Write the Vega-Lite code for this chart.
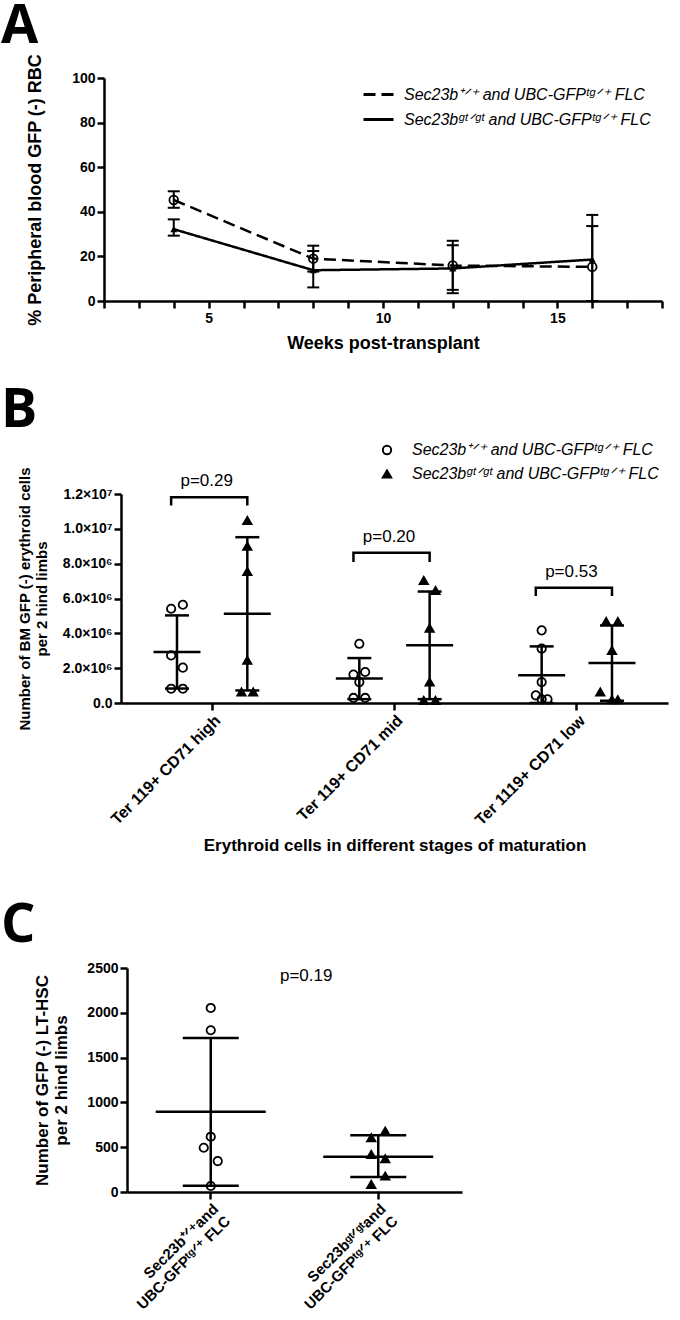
{
  "$schema": "https://vega.github.io/schema/vega-lite/v6.json",
  "padding": {"left": 0, "top": 0, "right": 5, "bottom": 2},
  "background": "white",
  "config": {
    "view": {"stroke": null},
    "font": "Liberation Sans",
    "axis": {"grid": false, "domainColor": "black", "domainWidth": 2.5, "tickColor": "black", "tickWidth": 2.5, "tickSize": 7, "labelColor": "black", "labelFont": "Liberation Sans", "labelFontSize": 14, "labelFontWeight": "bold", "labelOverlap": false, "titleColor": "black", "titleFont": "Liberation Sans", "titleFontWeight": "bold", "titleFontSize": 17},
    "legend": {"labelFont": "Liberation Sans", "labelFontStyle": "italic", "labelFontSize": 16, "labelColor": "black", "labelLimit": 500, "padding": 0},
    "title": {"font": "Open Sans", "fontSize": 54, "fontWeight": "bold", "color": "black", "anchor": "start", "frame": "group", "baseline": "alphabetic"}
  },
  "datasets": {
    "a": [
      {"week": 4, "grp": "+/+", "mean": 45.3, "lo": 41.8, "hi": 49.2},
      {"week": 8, "grp": "+/+", "mean": 19.0, "lo": 13.2, "hi": 24.8},
      {"week": 12, "grp": "+/+", "mean": 15.9, "lo": 5.0, "hi": 27.0},
      {"week": 16, "grp": "+/+", "mean": 15.3, "lo": 0, "hi": 33.6},
      {"week": 4, "grp": "gt/gt", "mean": 32.2, "lo": 29.3, "hi": 36.6},
      {"week": 8, "grp": "gt/gt", "mean": 13.8, "lo": 6.1, "hi": 22.4},
      {"week": 12, "grp": "gt/gt", "mean": 14.6, "lo": 3.5, "hi": 25.0},
      {"week": 16, "grp": "gt/gt", "mean": 18.6, "lo": 0, "hi": 38.6}
    ],
    "b_pts": [
      {"stage": "Ter 119+ CD71 high", "grp": "+/+", "col": "+/+ L", "value": 5410000},
      {"stage": "Ter 119+ CD71 high", "grp": "+/+", "col": "+/+ R", "value": 5640000},
      {"stage": "Ter 119+ CD71 high", "grp": "+/+", "col": "+/+ L", "value": 2730000},
      {"stage": "Ter 119+ CD71 high", "grp": "+/+", "col": "+/+ R", "value": 2030000},
      {"stage": "Ter 119+ CD71 high", "grp": "+/+", "col": "+/+ L", "value": 820000},
      {"stage": "Ter 119+ CD71 high", "grp": "+/+", "col": "+/+ R", "value": 820000},
      {"stage": "Ter 119+ CD71 high", "grp": "gt/gt", "col": "gt/gt C", "value": 10480000},
      {"stage": "Ter 119+ CD71 high", "grp": "gt/gt", "col": "gt/gt C", "value": 9000000},
      {"stage": "Ter 119+ CD71 high", "grp": "gt/gt", "col": "gt/gt C", "value": 7550000},
      {"stage": "Ter 119+ CD71 high", "grp": "gt/gt", "col": "gt/gt C", "value": 2450000},
      {"stage": "Ter 119+ CD71 high", "grp": "gt/gt", "col": "gt/gt L", "value": 630000},
      {"stage": "Ter 119+ CD71 high", "grp": "gt/gt", "col": "gt/gt R", "value": 630000},
      {"stage": "Ter 119+ CD71 mid", "grp": "+/+", "col": "+/+ C", "value": 3400000},
      {"stage": "Ter 119+ CD71 mid", "grp": "+/+", "col": "+/+ L", "value": 1630000},
      {"stage": "Ter 119+ CD71 mid", "grp": "+/+", "col": "+/+ R", "value": 1780000},
      {"stage": "Ter 119+ CD71 mid", "grp": "+/+", "col": "+/+ C", "value": 1200000},
      {"stage": "Ter 119+ CD71 mid", "grp": "+/+", "col": "+/+ L", "value": 290000},
      {"stage": "Ter 119+ CD71 mid", "grp": "+/+", "col": "+/+ R", "value": 290000},
      {"stage": "Ter 119+ CD71 mid", "grp": "gt/gt", "col": "gt/gt L", "value": 7040000},
      {"stage": "Ter 119+ CD71 mid", "grp": "gt/gt", "col": "gt/gt R", "value": 6460000},
      {"stage": "Ter 119+ CD71 mid", "grp": "gt/gt", "col": "gt/gt C", "value": 4300000},
      {"stage": "Ter 119+ CD71 mid", "grp": "gt/gt", "col": "gt/gt C", "value": 1200000},
      {"stage": "Ter 119+ CD71 mid", "grp": "gt/gt", "col": "gt/gt L", "value": 150000},
      {"stage": "Ter 119+ CD71 mid", "grp": "gt/gt", "col": "gt/gt R", "value": 150000},
      {"stage": "Ter 1119+ CD71 low", "grp": "+/+", "col": "+/+ C", "value": 4170000},
      {"stage": "Ter 1119+ CD71 low", "grp": "+/+", "col": "+/+ C", "value": 3120000},
      {"stage": "Ter 1119+ CD71 low", "grp": "+/+", "col": "+/+ C", "value": 1200000},
      {"stage": "Ter 1119+ CD71 low", "grp": "+/+", "col": "+/+ L", "value": 440000},
      {"stage": "Ter 1119+ CD71 low", "grp": "+/+", "col": "+/+ C", "value": 210000},
      {"stage": "Ter 1119+ CD71 low", "grp": "+/+", "col": "+/+ R", "value": 210000},
      {"stage": "Ter 1119+ CD71 low", "grp": "gt/gt", "col": "gt/gt L", "value": 4680000},
      {"stage": "Ter 1119+ CD71 low", "grp": "gt/gt", "col": "gt/gt R", "value": 4680000},
      {"stage": "Ter 1119+ CD71 low", "grp": "gt/gt", "col": "gt/gt C", "value": 3020000},
      {"stage": "Ter 1119+ CD71 low", "grp": "gt/gt", "col": "gt/gt LL", "value": 630000},
      {"stage": "Ter 1119+ CD71 low", "grp": "gt/gt", "col": "gt/gt C", "value": 190000},
      {"stage": "Ter 1119+ CD71 low", "grp": "gt/gt", "col": "gt/gt R", "value": 190000}
    ],
    "b_sum": [
      {"stage": "Ter 119+ CD71 high", "col": "+/+ C", "mean": 2930000, "lo": 830000, "hi": 5030000},
      {"stage": "Ter 119+ CD71 high", "col": "gt/gt C", "mean": 5120000, "lo": 720000, "hi": 9520000},
      {"stage": "Ter 119+ CD71 mid", "col": "+/+ C", "mean": 1400000, "lo": 220000, "hi": 2580000},
      {"stage": "Ter 119+ CD71 mid", "col": "gt/gt C", "mean": 3310000, "lo": 220000, "hi": 6400000},
      {"stage": "Ter 1119+ CD71 low", "col": "+/+ C", "mean": 1590000, "lo": 0, "hi": 3250000},
      {"stage": "Ter 1119+ CD71 low", "col": "gt/gt C", "mean": 2290000, "lo": 130000, "hi": 4450000}
    ],
    "b_br": [
      {"stage": "Ter 119+ CD71 high", "col": "+/+ L", "k": 1, "by": 11340000},
      {"stage": "Ter 119+ CD71 high", "col": "+/+ L", "k": 2, "by": 11820000},
      {"stage": "Ter 119+ CD71 high", "col": "gt/gt C", "k": 3, "by": 11820000},
      {"stage": "Ter 119+ CD71 high", "col": "gt/gt C", "k": 4, "by": 11340000},
      {"stage": "Ter 119+ CD71 mid", "col": "+/+ L", "k": 1, "by": 8090000},
      {"stage": "Ter 119+ CD71 mid", "col": "+/+ L", "k": 2, "by": 8620000},
      {"stage": "Ter 119+ CD71 mid", "col": "gt/gt C", "k": 3, "by": 8620000},
      {"stage": "Ter 119+ CD71 mid", "col": "gt/gt C", "k": 4, "by": 8090000},
      {"stage": "Ter 1119+ CD71 low", "col": "+/+ L", "k": 1, "by": 6140000},
      {"stage": "Ter 1119+ CD71 low", "col": "+/+ L", "k": 2, "by": 6620000},
      {"stage": "Ter 1119+ CD71 low", "col": "gt/gt C", "k": 3, "by": 6620000},
      {"stage": "Ter 1119+ CD71 low", "col": "gt/gt C", "k": 4, "by": 6140000}
    ],
    "b_p": [
      {"stage": "Ter 119+ CD71 high", "ptext": "p=0.29", "py": 12770000},
      {"stage": "Ter 119+ CD71 mid", "ptext": "p=0.20", "py": 9520000},
      {"stage": "Ter 1119+ CD71 low", "ptext": "p=0.53", "py": 7510000}
    ],
    "c_pts": [
      {"grp": "+/+", "side": "C", "value": 2054},
      {"grp": "+/+", "side": "C", "value": 1805},
      {"grp": "+/+", "side": "C", "value": 617},
      {"grp": "+/+", "side": "L", "value": 494},
      {"grp": "+/+", "side": "R", "value": 345},
      {"grp": "+/+", "side": "C", "value": 67},
      {"grp": "gt/gt", "side": "R", "value": 680},
      {"grp": "gt/gt", "side": "L", "value": 605},
      {"grp": "gt/gt", "side": "L", "value": 420},
      {"grp": "gt/gt", "side": "R", "value": 371},
      {"grp": "gt/gt", "side": "R", "value": 178},
      {"grp": "gt/gt", "side": "L", "value": 85}
    ],
    "c_sum": [
      {"grp": "+/+", "side": "C", "mean": 895, "lo": 70, "hi": 1720},
      {"grp": "gt/gt", "side": "C", "mean": 394, "lo": 167, "hi": 632}
    ],
    "c_p": [
      {"grp": "+/+", "ptext": "p=0.19", "py": 2407}
    ]
  },
  "spacing": 45,
  "resolve": {"scale": {"x": "independent", "y": "independent", "xOffset": "independent", "shape": "independent", "fill": "independent", "stroke": "independent", "strokeDash": "independent"}, "legend": {"shape": "independent", "fill": "independent", "stroke": "independent", "strokeDash": "independent"}},
  "vconcat": [
    {
      "spacing": 32,
      "resolve": {"scale": {"x": "independent", "y": "independent", "xOffset": "independent", "shape": "independent", "fill": "independent", "stroke": "independent", "strokeDash": "independent"}, "legend": {"shape": "independent", "fill": "independent", "stroke": "independent", "strokeDash": "independent"}},
      "vconcat": [
        {
          "spacing": 0,
          "resolve": {"scale": {"x": "independent", "y": "independent", "xOffset": "independent", "shape": "independent", "fill": "independent", "stroke": "independent", "strokeDash": "independent"}, "legend": {"shape": "independent", "fill": "independent", "stroke": "independent", "strokeDash": "independent"}},
          "hconcat": [
            {"width": 1, "height": 1, "view": {"fill": "white", "stroke": null}, "data": {"values": []}, "mark": "point"},
            {
              "width": 558,
              "height": 223,
              "title": {"text": "A", "dx": -103, "offset": -1},
              "data": {"name": "a"},
              "encoding": {
                "x": {"field": "week", "type": "quantitative", "scale": {"domain": [2, 18], "nice": false, "zero": false},
                  "axis": {"values": [2, 3, 4, 5, 6, 7, 8, 9, 10, 11, 12, 13, 14, 15, 16, 17, 18], "labelExpr": "datum.value % 5 === 0 ? datum.label : ''", "title": "Weeks post-transplant", "titleFontSize": 18, "titlePadding": 9, "labelPadding": 3}}
              },
              "layer": [
                {
                  "mark": {"type": "line", "color": "black", "strokeWidth": 2.5},
                  "encoding": {
                    "y": {"field": "mean", "type": "quantitative", "title": "% Peripheral blood GFP (-) RBC", "scale": {"domain": [0, 100], "nice": false},
                      "axis": {"values": [0, 20, 40, 60, 80, 100], "titleFontSize": 18, "titlePadding": 27, "labelPadding": 2}},
                    "strokeDash": {"field": "grp", "type": "nominal", "scale": {"domain": ["+/+", "gt/gt"], "range": [[12, 6], [1, 0]]},
                      "legend": {"title": null, "orient": "none", "legendX": 258, "legendY": 0, "symbolType": "stroke", "symbolSize": 900, "symbolStrokeWidth": 3, "symbolStrokeColor": "black", "labelOffset": 9, "rowPadding": -3,
                        "labelExpr": "datum.label === '+/+' ? 'Sec23b⁺ᐟ⁺ and UBC-GFPᵗᵍᐟ⁺ FLC' : 'Sec23bᵍᵗᐟᵍᵗ and UBC-GFPᵗᵍᐟ⁺ FLC'"}}
                  }
                },
                {
                  "mark": {"type": "rule", "color": "black", "strokeWidth": 2},
                  "encoding": {"y": {"field": "lo", "type": "quantitative", "title": "% Peripheral blood GFP (-) RBC"}, "y2": {"field": "hi"}, "detail": {"field": "grp"}}
                },
                {
                  "mark": {"type": "tick", "orient": "horizontal", "color": "black", "opacity": 1, "size": 12, "thickness": 2},
                  "encoding": {"y": {"field": "lo", "type": "quantitative", "title": "% Peripheral blood GFP (-) RBC"}}
                },
                {
                  "mark": {"type": "tick", "orient": "horizontal", "color": "black", "opacity": 1, "size": 12, "thickness": 2},
                  "encoding": {"y": {"field": "hi", "type": "quantitative", "title": "% Peripheral blood GFP (-) RBC"}}
                },
                {
                  "transform": [{"filter": "datum.grp === '+/+'"}],
                  "mark": {"type": "point", "shape": "circle", "filled": false, "stroke": "black", "strokeWidth": 1.8, "opacity": 1, "size": 75},
                  "encoding": {"y": {"field": "mean", "type": "quantitative", "title": "% Peripheral blood GFP (-) RBC"}}
                },
                {
                  "transform": [{"filter": "datum.grp === 'gt/gt'"}],
                  "mark": {"type": "point", "shape": "triangle-up", "filled": true, "color": "black", "opacity": 1, "size": 50},
                  "encoding": {"y": {"field": "mean", "type": "quantitative", "title": "% Peripheral blood GFP (-) RBC"}}
                }
              ]
            }
          ]
        },
        {
          "spacing": 0,
          "resolve": {"scale": {"x": "independent", "y": "independent", "xOffset": "independent", "shape": "independent", "fill": "independent", "stroke": "independent", "strokeDash": "independent"}, "legend": {"shape": "independent", "fill": "independent", "stroke": "independent", "strokeDash": "independent"}},
          "hconcat": [
            {"width": 1, "height": 1, "view": {"fill": "white", "stroke": null}, "data": {"values": []}, "mark": "point"},
            {
              "width": 547,
              "height": 209,
              "title": {"text": "B", "dx": -120, "offset": 4},
              "encoding": {
                "x": {"field": "stage", "type": "nominal", "sort": null,
                  "scale": {"domain": ["Ter 119+ CD71 high", "Ter 119+ CD71 mid", "Ter 1119+ CD71 low"], "paddingInner": 0, "paddingOuter": 0},
                  "axis": {"labelAngle": -45, "labelFontSize": 16, "labelPadding": 2, "title": "Erythroid cells in different stages of maturation", "titlePadding": 10}}
              },
              "layer": [
                {
                  "data": {"name": "b_pts"},
                  "mark": {"type": "point", "filled": true, "strokeWidth": 1.8, "opacity": 1, "size": 70},
                  "encoding": {
                    "xOffset": {"field": "col", "type": "nominal", "scale": {"domain": ["+/+ L", "+/+ C", "+/+ R", "s3", "s4", "s5", "s6", "s7", "s8", "s9", "s10", "gt/gt LL", "gt/gt L", "gt/gt C", "gt/gt R"], "range": [47.2, 135.1], "paddingInner": 0, "paddingOuter": 0}},
                    "y": {"field": "value", "type": "quantitative", "title": ["Number of BM GFP (-) erythroid cells", "per 2 hind limbs"], "scale": {"domain": [0, 12000000], "nice": false},
                      "axis": {"values": [0, 2000000, 4000000, 6000000, 8000000, 10000000, 12000000], "labelOverlap": false, "labelSeparation": 0, "titlePadding": 13, "titleFontSize": 15, "labelPadding": 2,
                        "labelExpr": "datum.value === 0 ? '0.0' : datum.value >= 10000000 ? format(datum.value / 10000000, '.1f') + '×10⁷' : format(datum.value / 1000000, '.1f') + '×10⁶'"}},
                    "shape": {"field": "grp", "type": "nominal", "scale": {"domain": ["+/+", "gt/gt"], "range": ["circle", "triangle-up"]},
                      "legend": {"title": null, "orient": "none", "legendX": 258, "legendY": -52, "symbolStrokeWidth": 2, "symbolSize": 70, "labelOffset": 17, "rowPadding": 7,
                        "labelExpr": "datum.label === '+/+' ? 'Sec23b⁺ᐟ⁺ and UBC-GFPᵗᵍᐟ⁺ FLC' : 'Sec23bᵍᵗᐟᵍᵗ and UBC-GFPᵗᵍᐟ⁺ FLC'"}},
                    "fill": {"field": "grp", "type": "nominal", "scale": {"domain": ["+/+", "gt/gt"], "range": ["transparent", "black"]},
                      "legend": {"title": null, "orient": "none", "legendX": 258, "legendY": -52, "symbolStrokeWidth": 2, "symbolSize": 70, "labelOffset": 17, "rowPadding": 7,
                        "labelExpr": "datum.label === '+/+' ? 'Sec23b⁺ᐟ⁺ and UBC-GFPᵗᵍᐟ⁺ FLC' : 'Sec23bᵍᵗᐟᵍᵗ and UBC-GFPᵗᵍᐟ⁺ FLC'"}},
                    "stroke": {"field": "grp", "type": "nominal", "scale": {"domain": ["+/+", "gt/gt"], "range": ["black", "black"]},
                      "legend": {"title": null, "orient": "none", "legendX": 258, "legendY": -52, "symbolStrokeWidth": 2, "symbolSize": 70, "labelOffset": 17, "rowPadding": 7,
                        "labelExpr": "datum.label === '+/+' ? 'Sec23b⁺ᐟ⁺ and UBC-GFPᵗᵍᐟ⁺ FLC' : 'Sec23bᵍᵗᐟᵍᵗ and UBC-GFPᵗᵍᐟ⁺ FLC'"}}
                  }
                },
                {
                  "data": {"name": "b_sum"},
                  "mark": {"type": "rule", "color": "black", "strokeWidth": 2.5},
                  "encoding": {
                    "xOffset": {"field": "col", "type": "nominal"},
                    "y": {"field": "lo", "type": "quantitative", "title": ["Number of BM GFP (-) erythroid cells", "per 2 hind limbs"],
                      "axis": {"values": [0, 2000000, 4000000, 6000000, 8000000, 10000000, 12000000], "labelOverlap": false, "labelSeparation": 0, "titlePadding": 13, "titleFontSize": 15, "labelPadding": 2,
                        "labelExpr": "datum.value === 0 ? '0.0' : datum.value >= 10000000 ? format(datum.value / 10000000, '.1f') + '×10⁷' : format(datum.value / 1000000, '.1f') + '×10⁶'"}},
                    "y2": {"field": "hi"}
                  }
                },
                {
                  "data": {"name": "b_sum"},
                  "mark": {"type": "tick", "orient": "horizontal", "color": "black", "opacity": 1, "size": 47, "thickness": 2.5},
                  "encoding": {"xOffset": {"field": "col", "type": "nominal"}, "y": {"field": "mean", "type": "quantitative", "title": ["Number of BM GFP (-) erythroid cells", "per 2 hind limbs"],
                      "axis": {"values": [0, 2000000, 4000000, 6000000, 8000000, 10000000, 12000000], "labelOverlap": false, "labelSeparation": 0, "titlePadding": 13, "titleFontSize": 15, "labelPadding": 2,
                        "labelExpr": "datum.value === 0 ? '0.0' : datum.value >= 10000000 ? format(datum.value / 10000000, '.1f') + '×10⁷' : format(datum.value / 1000000, '.1f') + '×10⁶'"}}}
                },
                {
                  "data": {"name": "b_sum"},
                  "mark": {"type": "tick", "orient": "horizontal", "color": "black", "opacity": 1, "size": 24, "thickness": 2.5},
                  "encoding": {"xOffset": {"field": "col", "type": "nominal"}, "y": {"field": "hi", "type": "quantitative", "title": ["Number of BM GFP (-) erythroid cells", "per 2 hind limbs"],
                      "axis": {"values": [0, 2000000, 4000000, 6000000, 8000000, 10000000, 12000000], "labelOverlap": false, "labelSeparation": 0, "titlePadding": 13, "titleFontSize": 15, "labelPadding": 2,
                        "labelExpr": "datum.value === 0 ? '0.0' : datum.value >= 10000000 ? format(datum.value / 10000000, '.1f') + '×10⁷' : format(datum.value / 1000000, '.1f') + '×10⁶'"}}}
                },
                {
                  "data": {"name": "b_sum"},
                  "mark": {"type": "tick", "orient": "horizontal", "color": "black", "opacity": 1, "size": 24, "thickness": 2.5},
                  "encoding": {"xOffset": {"field": "col", "type": "nominal"}, "y": {"field": "lo", "type": "quantitative", "title": ["Number of BM GFP (-) erythroid cells", "per 2 hind limbs"],
                      "axis": {"values": [0, 2000000, 4000000, 6000000, 8000000, 10000000, 12000000], "labelOverlap": false, "labelSeparation": 0, "titlePadding": 13, "titleFontSize": 15, "labelPadding": 2,
                        "labelExpr": "datum.value === 0 ? '0.0' : datum.value >= 10000000 ? format(datum.value / 10000000, '.1f') + '×10⁷' : format(datum.value / 1000000, '.1f') + '×10⁶'"}}}
                },
                {
                  "data": {"name": "b_br"},
                  "mark": {"type": "line", "color": "black", "strokeWidth": 2.5},
                  "encoding": {
                    "xOffset": {"field": "col", "type": "nominal"},
                    "y": {"field": "by", "type": "quantitative", "title": ["Number of BM GFP (-) erythroid cells", "per 2 hind limbs"],
                      "axis": {"values": [0, 2000000, 4000000, 6000000, 8000000, 10000000, 12000000], "labelOverlap": false, "labelSeparation": 0, "titlePadding": 13, "titleFontSize": 15, "labelPadding": 2,
                        "labelExpr": "datum.value === 0 ? '0.0' : datum.value >= 10000000 ? format(datum.value / 10000000, '.1f') + '×10⁷' : format(datum.value / 1000000, '.1f') + '×10⁶'"}},
                    "detail": {"field": "stage"},
                    "order": {"field": "k", "type": "quantitative"}
                  }
                },
                {
                  "data": {"name": "b_p"},
                  "mark": {"type": "text", "font": "Liberation Sans", "fontSize": 17, "color": "black", "baseline": "middle", "align": "center"},
                  "encoding": {
                    "x": {"field": "stage", "type": "nominal", "bandPosition": 0.47},
                    "y": {"field": "py", "type": "quantitative", "title": ["Number of BM GFP (-) erythroid cells", "per 2 hind limbs"],
                      "axis": {"values": [0, 2000000, 4000000, 6000000, 8000000, 10000000, 12000000], "labelOverlap": false, "labelSeparation": 0, "titlePadding": 13, "titleFontSize": 15, "labelPadding": 2,
                        "labelExpr": "datum.value === 0 ? '0.0' : datum.value >= 10000000 ? format(datum.value / 10000000, '.1f') + '×10⁷' : format(datum.value / 1000000, '.1f') + '×10⁶'"}},
                    "text": {"field": "ptext"}
                  }
                }
              ]
            }
          ]
        }
      ]
    },
    {
      "spacing": 0,
      "resolve": {"scale": {"x": "independent", "y": "independent", "xOffset": "independent", "shape": "independent", "fill": "independent", "stroke": "independent", "strokeDash": "independent"}, "legend": {"shape": "independent", "fill": "independent", "stroke": "independent", "strokeDash": "independent"}},
      "hconcat": [
        {"width": 1, "height": 1, "view": {"fill": "white", "stroke": null}, "data": {"values": []}, "mark": "point"},
        {
          "width": 335,
          "height": 224,
          "title": {"text": "C", "dx": -126, "offset": 8},
          "encoding": {
            "x": {"field": "grp", "type": "nominal", "sort": null,
              "scale": {"domain": ["+/+", "gt/gt"], "paddingInner": 0, "paddingOuter": 0},
              "axis": {"labelAngle": -45, "labelFontSize": 15, "labelPadding": 2, "title": null,
                "labelExpr": "datum.value === '+/+' ? ['Sec23b⁺ᐟ⁺and', 'UBC-GFPᵗᵍᐟ⁺ FLC'] : ['Sec23bᵍᵗᐟᵍᵗand', 'UBC-GFPᵗᵍᐟ⁺ FLC']"}}
          },
          "layer": [
            {
              "data": {"name": "c_pts"},
              "mark": {"type": "point", "filled": true, "stroke": "black", "strokeWidth": 1.8, "opacity": 1, "size": 70},
              "encoding": {
                "xOffset": {"field": "side", "type": "nominal", "scale": {"domain": ["L", "C", "R"], "range": [73.25, 94.25], "paddingInner": 0, "paddingOuter": 0}},
                "y": {"field": "value", "type": "quantitative", "title": ["Number of GFP (-) LT-HSC", "per 2 hind limbs"], "scale": {"domain": [0, 2500], "nice": false},
                  "axis": {"values": [0, 500, 1000, 1500, 2000, 2500], "format": "d", "titlePadding": 16, "labelPadding": 2}},
                "shape": {"field": "grp", "type": "nominal", "scale": {"domain": ["+/+", "gt/gt"], "range": ["circle", "triangle-up"]}, "legend": null},
                "fill": {"field": "grp", "type": "nominal", "scale": {"domain": ["+/+", "gt/gt"], "range": ["transparent", "black"]}, "legend": null}
              }
            },
            {
              "data": {"name": "c_sum"},
              "mark": {"type": "rule", "color": "black", "strokeWidth": 2.5},
              "encoding": {"xOffset": {"field": "side", "type": "nominal"}, "y": {"field": "lo", "type": "quantitative", "title": ["Number of GFP (-) LT-HSC", "per 2 hind limbs"]}, "y2": {"field": "hi"}}
            },
            {
              "data": {"name": "c_sum"},
              "mark": {"type": "tick", "orient": "horizontal", "color": "black", "opacity": 1, "size": 110, "thickness": 2.5},
              "encoding": {"xOffset": {"field": "side", "type": "nominal"}, "y": {"field": "mean", "type": "quantitative", "title": ["Number of GFP (-) LT-HSC", "per 2 hind limbs"]}}
            },
            {
              "data": {"name": "c_sum"},
              "mark": {"type": "tick", "orient": "horizontal", "color": "black", "opacity": 1, "size": 56, "thickness": 2.5},
              "encoding": {"xOffset": {"field": "side", "type": "nominal"}, "y": {"field": "hi", "type": "quantitative", "title": ["Number of GFP (-) LT-HSC", "per 2 hind limbs"]}}
            },
            {
              "data": {"name": "c_sum"},
              "mark": {"type": "tick", "orient": "horizontal", "color": "black", "opacity": 1, "size": 56, "thickness": 2.5},
              "encoding": {"xOffset": {"field": "side", "type": "nominal"}, "y": {"field": "lo", "type": "quantitative", "title": ["Number of GFP (-) LT-HSC", "per 2 hind limbs"]}}
            },
            {
              "data": {"name": "c_p"},
              "mark": {"type": "text", "font": "Liberation Sans", "fontSize": 17, "color": "black", "baseline": "middle", "align": "center"},
              "encoding": {
                "x": {"field": "grp", "type": "nominal", "bandPosition": 1.07},
                "y": {"field": "py", "type": "quantitative", "title": ["Number of GFP (-) LT-HSC", "per 2 hind limbs"]},
                "text": {"field": "ptext"}
              }
            }
          ]
        }
      ]
    }
  ]
}
